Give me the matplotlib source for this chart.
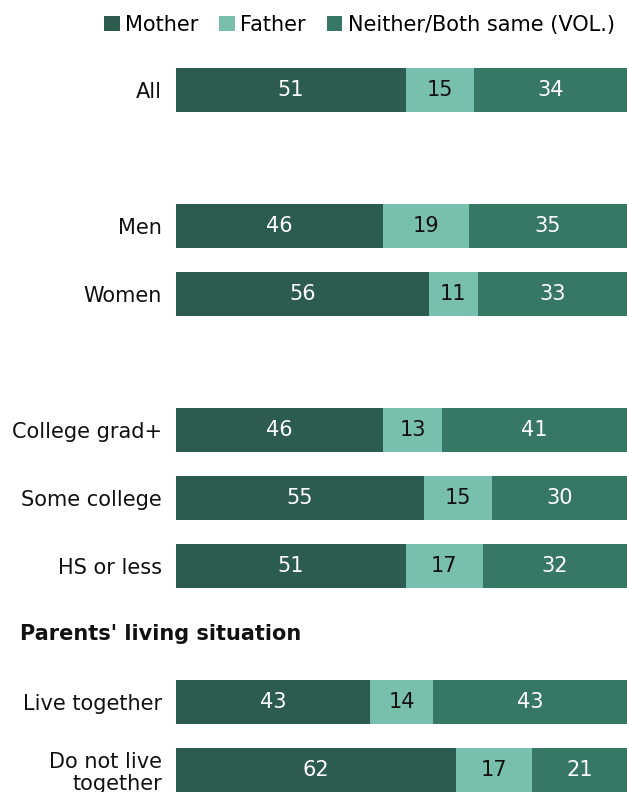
import matplotlib
matplotlib.use("Agg")
import matplotlib.pyplot as plt
from matplotlib.patches import Patch

# -------------------------
# DATA
# -------------------------
categories = ["All", "Men", "Women", "College grad+", "Some college",
              "HS or less", "Live together", "Do not live\ntogether"]
slots = [0, 2, 3, 5, 6, 7, 9, 10]   # row positions (gaps are group breaks)
mother = [51, 46, 56, 46, 55, 51, 43, 62]
father = [15, 19, 11, 13, 15, 17, 14, 17]
neither = [34, 35, 33, 41, 30, 32, 43, 21]
series_names = ["Mother", "Father", "Neither/Both same (VOL.)"]
colors = ["#2c5b4f", "#78bfae", "#377765"]
text_colors = ["white", "#111111", "white"]
section_header = "Parents' living situation"
header_slot = 8

FS = 15

# -------------------------
# PLOT
# -------------------------
plt.rcParams["font.family"] = ["DejaVu Sans"]
fig = plt.figure(figsize=(6.27, 7.92), dpi=100)
ax = fig.add_axes([176 / 627, 0, 1 - 176 / 627, 1])

left = [0] * len(categories)
for vals, col, tcol in zip([mother, father, neither], colors, text_colors):
    ax.barh(slots, vals, left=left, height=0.66, color=col, edgecolor="none")
    for s, l, v in zip(slots, left, vals):
        ax.text(l + v / 2, s, str(v), ha="center", va="center",
                color=tcol, fontsize=FS)
    left = [l + v for l, v in zip(left, vals)]

ax.set_xlim(0, 100)
ax.set_ylim((792 - 90) / 68, -90 / 68)
ax.set_yticks(slots)
ax.set_yticklabels(categories, fontsize=FS, color="#111111", linespacing=1.15)
ax.tick_params(axis="y", length=0, pad=10)
ax.set_xticks([])
for sp in ax.spines.values():
    sp.set_visible(False)
for lbl in ax.get_yticklabels():
    lbl.set_horizontalalignment("right")
    lbl.set_multialignment("right")

# section header
fig.text(20 / 627, 1 - (90 + 68 * header_slot) / 792, section_header,
         fontsize=FS, fontweight="bold", va="center", ha="left", color="#111111")

handles = [Patch(facecolor=c, edgecolor="none") for c in colors]
fig.legend(handles, series_names, loc="upper right", bbox_to_anchor=(1.01, 1.005),
           ncol=3, frameon=False, fontsize=FS, handlelength=0.75,
           handleheight=0.75, handletextpad=0.25, columnspacing=1.0)

fig.savefig("out.png", dpi=100)
